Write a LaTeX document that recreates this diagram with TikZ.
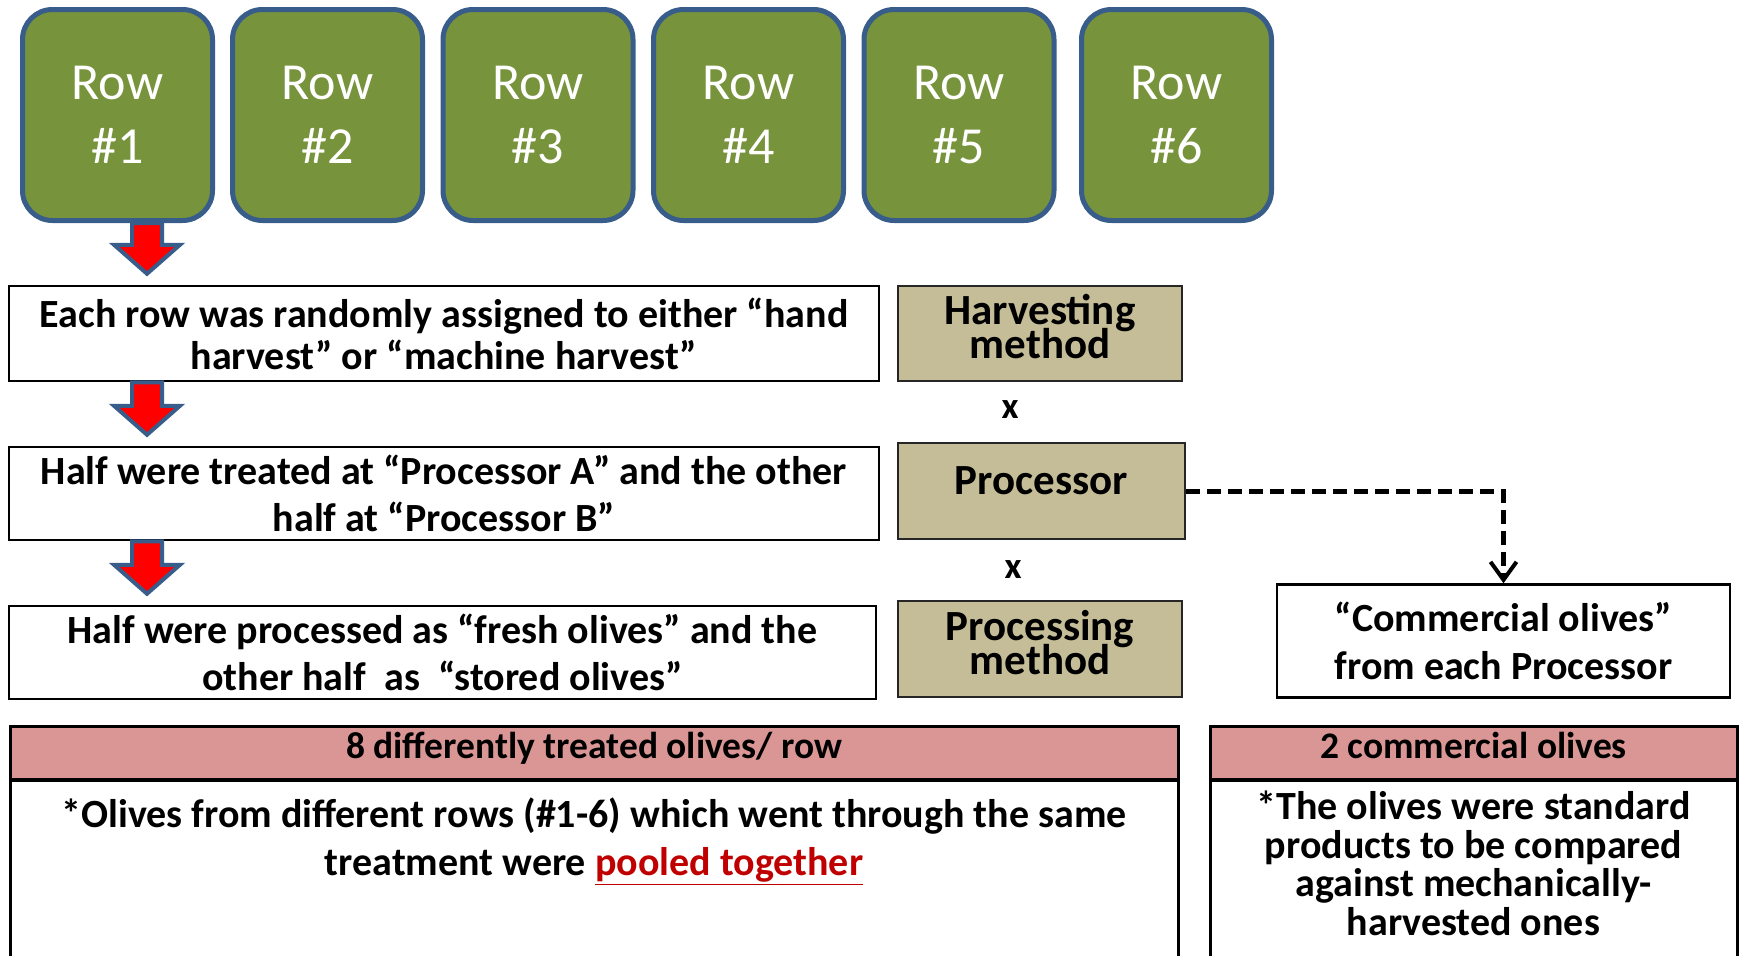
\documentclass[tikz,border=0pt]{standalone}
\usepackage{fontspec}
\setmainfont{Carlito}
\usetikzlibrary{calc,arrows.meta}

\definecolor{leaf}{RGB}{119,147,60}
\definecolor{rowblue}{RGB}{56,93,138}
\definecolor{khaki}{RGB}{196,189,151}
\definecolor{rose}{RGB}{217,150,148}
\definecolor{deepred}{RGB}{192,0,0}

% font with a given size and line distance, lines allowed to come close
\newcommand\bfsz[2]{\bfseries\fontsize{#1}{#2}\selectfont\lineskiplimit=-100pt\relax}

% vertical block arrow from the bottom of #1 to just above #2, on the line x = ax
\newcommand\blockarrow[2]{%
  \draw[blockarr] let \p1=(ax |- #1.south), \p2=(ax |- #2.north) in
    (\x1-15pt,\y1) -- (\x1+15pt,\y1) -- (\x1+15pt,\y2+40pt) -- (\x1+33pt,\y2+40pt)
    -- (\x1,\y2+11pt) -- (\x1-33pt,\y2+40pt) -- (\x1-15pt,\y2+40pt) -- cycle;}

\begin{document}
\begin{tikzpicture}[x=1pt,y=-1pt,
  rowbox/.style={draw=rowblue, line width=5pt, fill=leaf, rounded corners=30pt,
    minimum width=190pt, minimum height=211pt, text=white, align=center, inner sep=0pt,
    text depth=-4pt, font=\fontsize{52}{64}\selectfont},
  stepbox/.style={draw=black, line width=2.5pt, fill=white, align=center, inner sep=0pt},
  factor/.style={draw=black!85, line width=2.5pt, fill=khaki, align=center, inner sep=0pt,
    font=\bfsz{43}{34}},
  times/.style={font=\bfsz{37}{40}, inner sep=0pt},
  header/.style={draw=black, line width=3pt, fill=rose, inner sep=0pt, text depth=15pt,
    font=\bfsz{37.5}{40}},
  bodybox/.style={draw=black, line width=3pt, fill=white, inner sep=0pt},
  bodytext/.style={align=center, inner sep=0pt},
  blockarr/.style={draw=rowblue, fill=red, line width=4pt, line join=miter},
  dasharr/.style={line width=5pt, dash pattern=on 14pt off 7pt,
    -{Straight Barb[length=18pt,width=26pt,line width=4pt]}}
]
\useasboundingbox (0,0) rectangle (1741,956);

% the six rows of the orchard
\node[rowbox] (r1) at (117.5,115) {Row\\\#1};
\node[rowbox] (r2) at (327.5,115) {Row\\\#2};
\node[rowbox] (r3) at (538,115) {Row\\\#3};
\node[rowbox] (r4) at (748.5,115) {Row\\\#4};
\node[rowbox] (r5) at (959,115) {Row\\\#5};
\node[rowbox] (r6) at (1176.5,115) {Row\\\#6};

% treatment steps
\node[stepbox, font=\bfsz{40}{42}, text depth=-4pt, minimum width=870pt, minimum height=95pt] (s1) at (444,333.5)
  {Each row was randomly assigned to either “hand\\harvest” or “machine harvest”};
\node[stepbox, font=\bfsz{40}{47}, minimum width=870pt, minimum height=93pt] (s2) at (444,493.5)
  {Half were treated at “Processor A” and the other\\half at “Processor B”};
\node[stepbox, font=\bfsz{40}{47}, minimum width=867pt, minimum height=93pt] (s3) at (442.5,652.5)
  {Half were processed as “fresh olives” and the\\other half\ \ as\ \ “stored olives”};

% factors
\node[factor, minimum width=284pt, minimum height=95pt, text depth=15pt] (hm) at (1040,333.5)
  {Harvesting\\method};
\node[factor, minimum width=287pt, minimum height=96pt, text depth=20pt] (pr) at (1041.5,491)
  {Processor};
\node[factor, minimum width=284pt, minimum height=96pt, text depth=13pt] (pm) at (1040,649)
  {Processing\\method};
\node[times] (x1) at (1010,410) {x};
\node[times] (x2) at (1013,570) {x};

% commercial reference olives
\node[stepbox, font=\bfsz{40}{48}, minimum width=453pt, minimum height=113pt] (cm) at (1503.5,641)
  {“Commercial olives”\\from each Processor};

% flow arrows
\coordinate (ax) at (147,0);
\blockarrow{r1}{s1}
\blockarrow{s1}{s2}
\blockarrow{s2}{s3}
\draw[dasharr] (pr.east) -| (cm.north);

% summary tables
\node[bodybox, minimum width=1168pt, minimum height=180pt, anchor=north] (b1) at (594,779) {};
\node[header, minimum width=1168pt, minimum height=53pt] (h1) at (594,752.5)
  {8 differently treated olives/ row};
\node[bodytext, font=\bfsz{40}{48}, anchor=north] (t1) at ($(b1.north)+(0,19)$)
  {*Olives from different rows (\#1-6) which went through the same\\
   treatment were {\color{deepred}\underline{pooled together}}};

\node[bodybox, minimum width=527pt, minimum height=180pt, anchor=north] (b2) at (1473.5,779) {};
\node[header, minimum width=527pt, minimum height=53pt] (h2) at (1473.5,752.5)
  {2 commercial olives};
\node[bodytext, font=\bfsz{40}{38.7}, anchor=north] (t2) at ($(b2.north)+(0,11.5)$)
  {*The olives were standard\\products to be compared\\against mechanically-\\harvested ones};
\end{tikzpicture}
\end{document}
